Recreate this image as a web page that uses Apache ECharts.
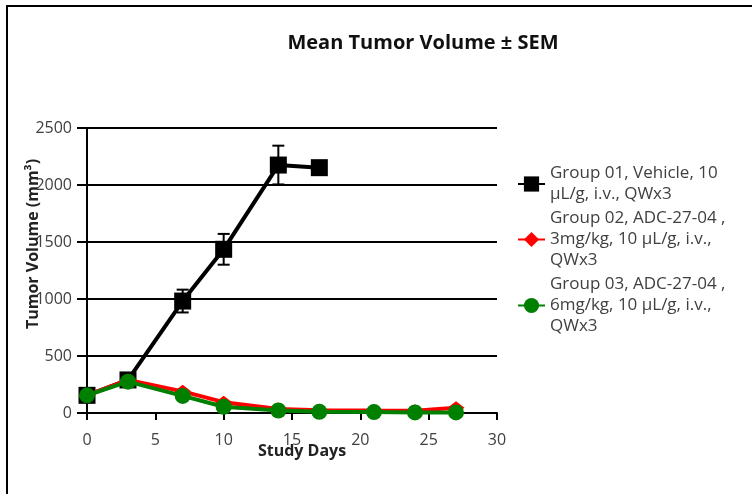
<!DOCTYPE html>
<html>
<head>
<meta charset="utf-8">
<script src="https://cdn.jsdelivr.net/npm/echarts@6/dist/echarts.min.js"></script>
<style>
  html, body { margin: 0; padding: 0; background: #fff; }
  #chart { width: 752px; height: 494px; }
</style>
</head>
<body>
<div id="chart"></div>
<script>
// Study days and mean tumor volume (mm³) per treatment group
const days1 = [0, 3, 7, 10, 14, 17];
const group1 = [155, 290, 982, 1436, 2175, 2152];
const group1Sem = [10, 20, 100, 135, 170, 0];

const days23 = [0, 3, 7, 10, 14, 17, 21, 24, 27];
const group2 = [155, 290, 190, 95, 35, 25, 22, 20, 45];
const group3 = [155, 275, 150, 55, 22, 10, 8, 5, 5];

const seriesNames = [
  'Group 01, Vehicle, 10\nµL/g, i.v., QWx3',
  'Group 02, ADC-27-04 ,\n3mg/kg, 10 µL/g, i.v.,\nQWx3',
  'Group 03, ADC-27-04 ,\n6mg/kg, 10 µL/g, i.v.,\nQWx3'
];

const xTicks = { min: 0, max: 30, interval: 5 };
const yTicks = { min: 0, max: 2500, interval: 500 };

const FONT = '"Open Sans", "DejaVu Sans", sans-serif';
const TEXT = '#404040';

const pairs = (xs, ys) => xs.map((x, i) => [x, ys[i]]);
const errRows = days1.map((d, i) => [d, group1[i] - group1Sem[i], group1[i] + group1Sem[i]])
  .filter((r, i) => group1Sem[i] > 0);

const chart = echarts.init(document.getElementById('chart'));

chart.setOption({
  animation: false,
  backgroundColor: '#fff',
  title: {
    text: 'Mean Tumor Volume ± SEM',
    left: 418,
    top: 28,
    textAlign: 'center',
    textStyle: { fontFamily: FONT, fontSize: 20, fontWeight: 'bold', color: '#111' }
  },
  grid: { left: 87, right: 255, top: 128, bottom: 81 },
  xAxis: {
    type: 'value',
    min: xTicks.min, max: xTicks.max, interval: xTicks.interval,
    name: 'Study Days',
    nameLocation: 'middle',
    nameGap: 30,
    nameMoveOverlap: false,
    nameTextStyle: { fontFamily: FONT, fontSize: 16, fontWeight: 'bold', color: '#222', padding: [0, 0, 0, 20] },
    axisLine: { show: true, onZero: false, lineStyle: { color: '#000', width: 2 } },
    axisTick: { show: true, length: 7, lineStyle: { color: '#000', width: 2 } },
    axisLabel: { margin: 19, fontFamily: FONT, fontSize: 16, color: TEXT },
    splitLine: { show: false }
  },
  yAxis: {
    type: 'value',
    min: yTicks.min, max: yTicks.max, interval: yTicks.interval,
    axisLine: { show: true, lineStyle: { color: '#000', width: 2 } },
    axisTick: { show: true, length: 10, lineStyle: { color: '#000', width: 2 } },
    axisLabel: { margin: 15, fontFamily: FONT, fontSize: 16, color: TEXT, formatter: v => String(v) },
    splitLine: { show: true, lineStyle: { color: '#000', width: 2 } }
  },
  legend: {
    orient: 'vertical',
    left: 512,
    top: 158,
    itemGap: 3,
    itemWidth: 27,
    itemHeight: 19,
    data: seriesNames,
    textStyle: { fontFamily: FONT, fontSize: 17, lineHeight: 21, color: TEXT }
  },
  graphic: [
    {
      type: 'text', x: 33, y: 244, rotation: Math.PI / 2,
      style: {
        text: 'Tumor Volume (mm³)', align: 'center', verticalAlign: 'middle',
        font: 'bold 16px ' + FONT, fill: '#222'
      }
    },
    { type: 'line', shape: { x1: 6, y1: 6, x2: 752, y2: 6 }, style: { stroke: '#000', lineWidth: 2 } },
    { type: 'line', shape: { x1: 7, y1: 6, x2: 7, y2: 494 }, style: { stroke: '#000', lineWidth: 2 } }
  ],
  series: [
    {
      type: 'custom',
      name: 'sem',
      z: 2,
      data: errRows,
      renderItem: function (params, api) {
        const x = api.value(0);
        const lo = api.coord([x, api.value(1)]);
        const hi = api.coord([x, api.value(2)]);
        const cap = 6;
        const st = { stroke: '#000', lineWidth: 2 };
        return {
          type: 'group',
          children: [
            { type: 'line', shape: { x1: lo[0], y1: lo[1], x2: hi[0], y2: hi[1] }, style: st },
            { type: 'line', shape: { x1: hi[0] - cap, y1: hi[1], x2: hi[0] + cap, y2: hi[1] }, style: st },
            { type: 'line', shape: { x1: lo[0] - cap, y1: lo[1], x2: lo[0] + cap, y2: lo[1] }, style: st }
          ]
        };
      }
    },
    {
      type: 'line',
      name: seriesNames[0],
      z: 3,
      data: pairs(days1, group1),
      symbol: 'rect',
      symbolSize: 17,
      itemStyle: { color: '#000' },
      lineStyle: { color: '#000', width: 4 }
    },
    {
      type: 'line',
      name: seriesNames[1],
      z: 4,
      data: pairs(days23, group2),
      symbol: 'diamond',
      symbolSize: [17, 13],
      itemStyle: { color: '#ff0000' },
      lineStyle: { color: '#ff0000', width: 4 }
    },
    {
      type: 'line',
      name: seriesNames[2],
      z: 5,
      data: pairs(days23, group3),
      symbol: 'circle',
      symbolSize: 16,
      itemStyle: { color: '#008000' },
      lineStyle: { color: '#008000', width: 4 }
    }
  ]
});
</script>
</body>
</html>
